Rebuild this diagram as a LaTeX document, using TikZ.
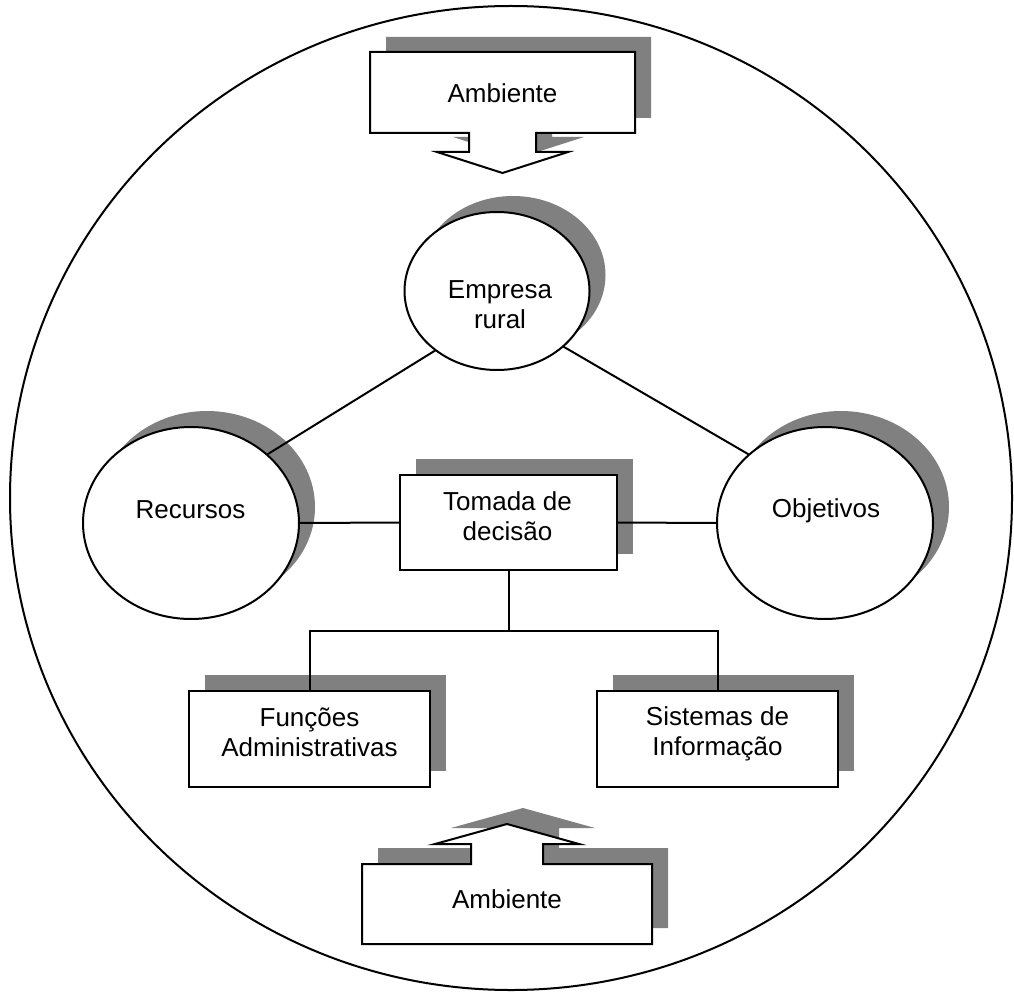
\documentclass[tikz,border=0pt]{standalone}
\usepackage{fontspec}
\setmainfont{Liberation Sans}
\usetikzlibrary{shapes.geometric,shadows}
\definecolor{shadowgray}{HTML}{808080}
\begin{document}
\begin{tikzpicture}[x=1pt,y=-1pt,
  outline/.style={draw=black,line width=2pt,fill=white},
  shadowed/.style={drop shadow={shadow xshift=16pt,shadow yshift=16pt,fill=shadowgray,opacity=1}},
  boxnode/.style={outline,shadowed,rectangle,inner sep=0pt,outer sep=0pt},
  ovalnode/.style={outline,shadowed,ellipse,inner sep=0pt,outer sep=0pt},
  caption/.style={font=\fontsize{26}{30}\selectfont,align=center,inner sep=0pt},
  link/.style={line width=2pt}]
\useasboundingbox (0,0) rectangle (1014,992);

% surrounding environment
\draw[link] (511,498) ellipse [x radius=501, y radius=492];

% top "Ambiente" down-arrow callout (shadow first)
\fill[shadowgray,shift={(16,-15)}]
  (370,52) -- (635,52) -- (635,133) -- (536,133) -- (536,152) -- (568,152)
  -- (502.5,173) -- (437,152) -- (469,152) -- (469,133) -- (370,133) -- cycle;
\draw[outline,line join=miter]
  (370,52) -- (635,52) -- (635,133) -- (536,133) -- (536,152) -- (568,152)
  -- (502.5,173) -- (437,152) -- (469,152) -- (469,133) -- (370,133) -- cycle;
\node[caption,anchor=base] (ambtop) at (502.5,103) {Ambiente};

% bottom "Ambiente" up-arrow callout (shadow first)
\fill[shadowgray,shift={(16,-16)}]
  (362,944) -- (362,864) -- (471,864) -- (471,844) -- (435,844) -- (507,824)
  -- (579,844) -- (543,844) -- (543,864) -- (652,864) -- (652,944) -- cycle;
\draw[outline,line join=miter]
  (362,944) -- (362,864) -- (471,864) -- (471,844) -- (435,844) -- (507,824)
  -- (579,844) -- (543,844) -- (543,864) -- (652,864) -- (652,944) -- cycle;
\node[caption,anchor=base] (ambbot) at (507,908) {Ambiente};

% main elements
\node[ovalnode,minimum width=185pt,minimum height=158pt] (emp) at (497,291) {};
\node[ovalnode,minimum width=216pt,minimum height=192pt] (rec) at (191,523) {};
\node[ovalnode,minimum width=216pt,minimum height=192pt] (obj) at (825,523) {};
\node[boxnode,minimum width=217pt,minimum height=95pt] (tom) at (508.5,522.5) {};
\node[boxnode,minimum width=241pt,minimum height=96pt] (fun) at (309.5,739) {};
\node[boxnode,minimum width=241pt,minimum height=96pt] (sis) at (717.5,739) {};

% labels
\node[caption] (emptxt) at (500,305) {Empresa\\rural};
\node[caption,anchor=base] (rectxt) at (190.5,518) {Recursos};
\node[caption,anchor=base] (objtxt) at (826,517) {Objetivos};
\node[caption] (tomtxt) at (507.5,516.5) {Tomada de\\decisão};
\node[caption] (funtxt) at (309.5,732.5) {Funções\\Administrativas};
\node[caption] (sistxt) at (717.5,734) {Sistemas de\\Informação};

% connectors
\draw[link] (emp.224) -- (rec.42);
\draw[link] (emp.320) -- (obj.138);
\draw[link] (rec.east) -- (tom.west);
\draw[link] (tom.east) -- (obj.west);
\coordinate (split) at (508.5,631);
\draw[link] (tom.south) -- (split);
\draw[link,line join=miter] (fun.north) -- (fun.north |- split) -- (sis.north |- split) -- (sis.north);
\end{tikzpicture}
\end{document}
